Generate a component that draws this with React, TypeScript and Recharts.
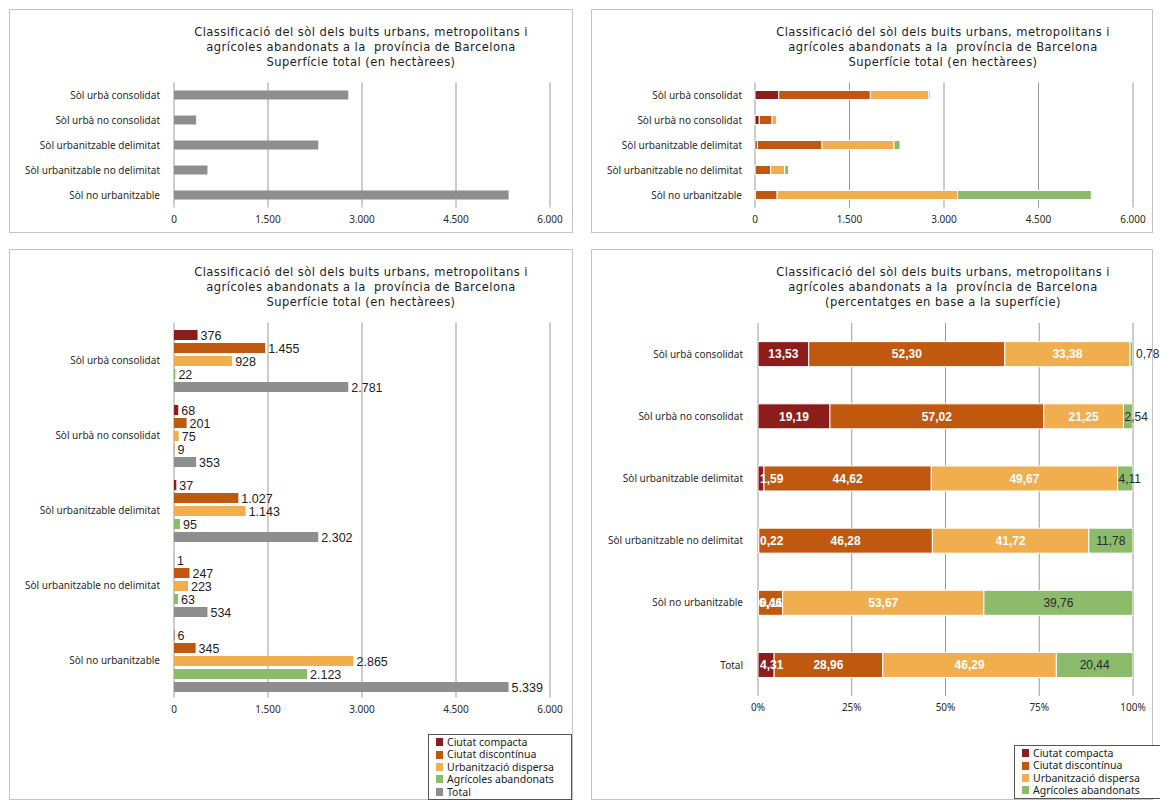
import React from 'react';
import { BarChart, Bar, XAxis, YAxis, CartesianGrid, LabelList } from 'recharts';

const categories = [
  'Sòl urbà consolidat',
  'Sòl urbà no consolidat',
  'Sòl urbanitzable delimitat',
  'Sòl urbanitzable no delimitat',
  'Sòl no urbanitzable',
];
const compacta = [376, 68, 37, 1, 6];
const discontinua = [1455, 201, 1027, 247, 345];
const dispersa = [928, 75, 1143, 223, 2865];
const agricoles = [22, 9, 95, 63, 2123];
const totals = [2781, 353, 2302, 534, 5339];

const pctCategories = [...categories, 'Total'];
const pctCompacta = [13.53, 19.19, 1.59, 0.22, 0.11, 4.31];
const pctDiscontinua = [52.3, 57.02, 44.62, 46.28, 6.46, 28.96];
const pctDispersa = [33.38, 21.25, 49.67, 41.72, 53.67, 46.29];
const pctAgricoles = [0.78, 2.54, 4.11, 11.78, 39.76, 20.44];

const haTicks = [0, 1500, 3000, 4500, 6000];
const pctTicks = [0, 25, 50, 75, 100];

const seriesNames = ['Ciutat compacta', 'Ciutat discontínua', 'Urbanització dispersa', 'Agrícoles abandonats', 'Total'];
const colors = ['#8c1d1b', '#c1580f', '#f0ae4f', '#8dbb6c', '#8e8e8e'];

const titleLine1 = 'Classificació del sòl dels buits urbans, metropolitans i';
const titleLine2 = 'agrícoles abandonats a la  província de Barcelona';
const titleLine3a = 'Superfície total (en hectàrees)';
const titleLine3b = '(percentatges en base a la superfície)';

const haData = categories.map((name, i) => ({
  name,
  c: compacta[i],
  d: discontinua[i],
  u: dispersa[i],
  a: agricoles[i],
  t: totals[i],
}));
const pctData = pctCategories.map((name, i) => ({
  name,
  c: pctCompacta[i],
  d: pctDiscontinua[i],
  u: pctDispersa[i],
  a: pctAgricoles[i],
}));

const FONT = '"Noto Sans", "DejaVu Sans", sans-serif';
const TITLEFONT = '"DejaVu Sans", sans-serif';
const NUMFONT = '"Liberation Sans", Arial, sans-serif';

const fmtHa = (n: number) => String(n).replace(/\B(?=(\d{3})+(?!\d))/g, '.');
const fmtPct = (n: number) => n.toFixed(2).replace('.', ',');

const getBox = (props: any) => {
  const vb = props.viewBox && typeof props.viewBox.x === 'number' ? props.viewBox : props;
  return { x: Number(vb.x), y: Number(vb.y), width: Number(vb.width), height: Number(vb.height) };
};

const haLabel = (props: any) => {
  const { x, y, width, height } = getBox(props);
  return (
    <text x={x + width + 3} y={y + height / 2} dy="0.36em" fontSize={12.5} fontFamily={NUMFONT} fill="#222">
      {fmtHa(Number(props.value))}
    </text>
  );
};

const pctLabel = (kind: 'first' | 'mid' | 'last') => (props: any) => {
  const { x, y, width, height } = getBox(props);
  const txt = fmtPct(Number(props.value));
  const tw = txt.length * 6.4;
  let tx = x + width / 2;
  let anchor: 'middle' | 'start' = 'middle';
  const fill = kind === 'last' ? '#2a2a2a' : '#ffffff';
  if (width < tw + 2) {
    if (kind === 'first') {
      tx = x + 2;
      anchor = 'start';
    } else if (kind === 'last') {
      tx = width < 5 ? x + width + 3 : x + 1;
      anchor = 'start';
    }
  }
  return (
    <text
      x={tx}
      y={y + height / 2}
      dy="0.36em"
      textAnchor={anchor}
      fontSize={12}
      fontWeight={kind === 'last' ? 'normal' : 'bold'}
      fontFamily={NUMFONT}
      fill={fill}
    >
      {txt}
    </text>
  );
};

const tickStyle = { fontSize: 10, fill: '#2a2a2a', fontFamily: FONT };

const CatTick = (props: any) => (
  <text x={props.x} y={props.y} dy="0.36em" textAnchor="end" fontSize={10} fill="#2a2a2a" fontFamily={FONT}>
    {props.payload?.value}
  </text>
);

const Panel = ({ left, top, width, height }: { left: number; top: number; width: number; height: number }) => (
  <div
    style={{
      position: 'absolute',
      left,
      top,
      width,
      height,
      border: '1px solid #c4c4c4',
      boxSizing: 'border-box',
      background: '#fff',
    }}
  />
);

const Title = ({ cx, top, lines }: { cx: number; top: number; lines: string[] }) => (
  <div
    style={{
      position: 'absolute',
      left: cx - 250,
      top,
      width: 500,
      textAlign: 'center',
      fontFamily: TITLEFONT,
      fontStretch: 'condensed',
      fontSize: 12.8,
      letterSpacing: '0.45px',
      lineHeight: '15px',
      color: '#1e1e1e',
      whiteSpace: 'pre',
    }}
  >
    {lines.map((l, i) => (
      <div key={i}>{l}</div>
    ))}
  </div>
);

const Legend = ({ left, top, width, items }: { left: number; top: number; width: number; items: number }) => (
  <div
    style={{
      position: 'absolute',
      left,
      top,
      width,
      border: '1px solid #555',
      boxSizing: 'border-box',
      background: '#fff',
      padding: '1px 0 1px 7px',
      fontFamily: FONT,
      fontSize: 10.5,
      lineHeight: '12.4px',
      color: '#222',
    }}
  >
    {seriesNames.slice(0, items).map((n, i) => (
      <div key={n} style={{ display: 'flex', alignItems: 'center', whiteSpace: 'nowrap' }}>
        <span style={{ display: 'inline-block', width: 7, height: 8, background: colors[i], marginRight: 4 }} />
        {n}
      </div>
    ))}
  </div>
);

export default function App() {
  return (
    <div style={{ position: 'absolute', left: 0, top: 0, width: 1160, height: 801, background: '#fff', overflow: 'hidden' }}>
      <Panel left={9} top={9} width={564} height={224} />
      <Panel left={591} top={9} width={562} height={224} />
      <Panel left={9} top={249} width={564} height={551} />
      <Panel left={591} top={249} width={562} height={551} />

      <Title cx={361} top={24} lines={[titleLine1, titleLine2, titleLine3a]} />
      <Title cx={943} top={24} lines={[titleLine1, titleLine2, titleLine3a]} />
      <Title cx={361} top={264} lines={[titleLine1, titleLine2, titleLine3a]} />
      <Title cx={943} top={264} lines={[titleLine1, titleLine2, titleLine3b]} />

      {/* Top-left: totals */}
      <div style={{ position: 'absolute', left: 0, top: 0 }}>
        <BarChart
          width={580}
          height={240}
          data={haData}
          layout="vertical"
          margin={{ top: 82.5, right: 30, bottom: 12.5, left: 10 }}
          barCategoryGap="32%"
        >
          <CartesianGrid horizontal={false} vertical stroke="#9a9a9a" />
          <XAxis
            type="number"
            domain={[0, 6000]}
            ticks={haTicks}
            interval={0}
            tickFormatter={fmtHa}
            axisLine={false}
            tickLine={false}
            height={20}
            tick={tickStyle}
          />
          <YAxis
            type="category"
            dataKey="name"
            width={164}
            interval={0}
            axisLine={false}
            tickLine={false}
            tickMargin={8}
            tick={<CatTick />}
          />
          <Bar dataKey="t" name={seriesNames[4]} fill={colors[4]} isAnimationActive={false} />
        </BarChart>
      </div>

      {/* Top-right: stacked */}
      <div style={{ position: 'absolute', left: 580, top: 0 }}>
        <BarChart
          width={580}
          height={240}
          data={haData}
          layout="vertical"
          margin={{ top: 82.5, right: 27, bottom: 12.5, left: 11 }}
          barCategoryGap="32%"
        >
          <CartesianGrid horizontal={false} vertical stroke="#9a9a9a" />
          <XAxis
            type="number"
            domain={[0, 6000]}
            ticks={haTicks}
            interval={0}
            tickFormatter={fmtHa}
            axisLine={false}
            tickLine={false}
            height={20}
            tick={tickStyle}
          />
          <YAxis
            type="category"
            dataKey="name"
            width={164}
            interval={0}
            axisLine={false}
            tickLine={false}
            tickMargin={7}
            tick={<CatTick />}
          />
          <Bar dataKey="c" stackId="s" name={seriesNames[0]} fill={colors[0]} stroke="#fff" strokeWidth={1} isAnimationActive={false} />
          <Bar dataKey="d" stackId="s" name={seriesNames[1]} fill={colors[1]} stroke="#fff" strokeWidth={1} isAnimationActive={false} />
          <Bar dataKey="u" stackId="s" name={seriesNames[2]} fill={colors[2]} stroke="#fff" strokeWidth={1} isAnimationActive={false} />
          <Bar dataKey="a" stackId="s" name={seriesNames[3]} fill={colors[3]} stroke="#fff" strokeWidth={1} isAnimationActive={false} />
        </BarChart>
      </div>

      {/* Bottom-left: grouped */}
      <div style={{ position: 'absolute', left: 0, top: 240 }}>
        <BarChart
          width={580}
          height={561}
          data={haData}
          layout="vertical"
          margin={{ top: 82.5, right: 30, bottom: 83.5, left: 10 }}
          barCategoryGap="10%"
          barGap={3}
        >
          <CartesianGrid horizontal={false} vertical stroke="#9a9a9a" />
          <XAxis
            type="number"
            domain={[0, 6000]}
            ticks={haTicks}
            interval={0}
            tickFormatter={fmtHa}
            axisLine={false}
            tickLine={false}
            height={20}
            tick={tickStyle}
          />
          <YAxis
            type="category"
            dataKey="name"
            width={164}
            interval={0}
            axisLine={false}
            tickLine={false}
            tickMargin={8}
            tick={<CatTick />}
          />
          <Bar dataKey="c" name={seriesNames[0]} fill={colors[0]} isAnimationActive={false}>
            <LabelList dataKey="c" content={haLabel} />
          </Bar>
          <Bar dataKey="d" name={seriesNames[1]} fill={colors[1]} isAnimationActive={false}>
            <LabelList dataKey="d" content={haLabel} />
          </Bar>
          <Bar dataKey="u" name={seriesNames[2]} fill={colors[2]} isAnimationActive={false}>
            <LabelList dataKey="u" content={haLabel} />
          </Bar>
          <Bar dataKey="a" name={seriesNames[3]} fill={colors[3]} isAnimationActive={false}>
            <LabelList dataKey="a" content={haLabel} />
          </Bar>
          <Bar dataKey="t" name={seriesNames[4]} fill={colors[4]} isAnimationActive={false}>
            <LabelList dataKey="t" content={haLabel} />
          </Bar>
        </BarChart>
      </div>

      {/* Bottom-right: percentages */}
      <div style={{ position: 'absolute', left: 580, top: 240 }}>
        <BarChart
          width={580}
          height={561}
          data={pctData}
          layout="vertical"
          margin={{ top: 83, right: 27, bottom: 85, left: 14 }}
          barCategoryGap="30%"
        >
          <CartesianGrid horizontal={false} vertical stroke="#9a9a9a" />
          <XAxis
            type="number"
            domain={[0, 100]}
            ticks={pctTicks}
            interval={0}
            tickFormatter={(v: number) => `${v}%`}
            axisLine={false}
            tickLine={false}
            height={20}
            tick={tickStyle}
            allowDataOverflow
          />
          <YAxis
            type="category"
            dataKey="name"
            width={164}
            interval={0}
            axisLine={false}
            tickLine={false}
            tickMargin={9}
            tick={<CatTick />}
          />
          <Bar dataKey="c" stackId="p" name={seriesNames[0]} fill={colors[0]} stroke="#fff" strokeWidth={1} isAnimationActive={false}>
            <LabelList dataKey="c" content={pctLabel('first')} />
          </Bar>
          <Bar dataKey="d" stackId="p" name={seriesNames[1]} fill={colors[1]} stroke="#fff" strokeWidth={1} isAnimationActive={false}>
            <LabelList dataKey="d" content={pctLabel('mid')} />
          </Bar>
          <Bar dataKey="u" stackId="p" name={seriesNames[2]} fill={colors[2]} stroke="#fff" strokeWidth={1} isAnimationActive={false}>
            <LabelList dataKey="u" content={pctLabel('mid')} />
          </Bar>
          <Bar dataKey="a" stackId="p" name={seriesNames[3]} fill={colors[3]} stroke="#fff" strokeWidth={1} isAnimationActive={false}>
            <LabelList dataKey="a" content={pctLabel('last')} />
          </Bar>
        </BarChart>
      </div>

      <Legend left={428} top={734} width={144} items={5} />
      <Legend left={1014} top={745} width={150} items={4} />
    </div>
  );
}
